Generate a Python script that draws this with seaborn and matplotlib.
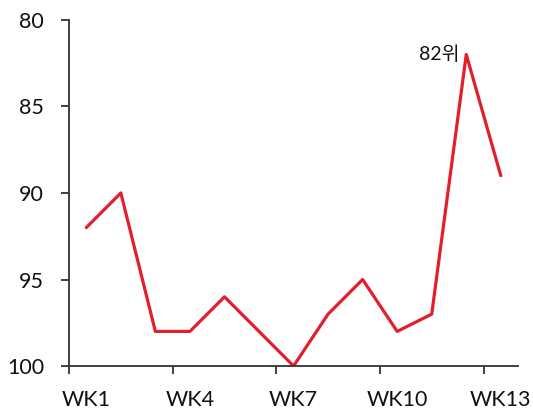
import matplotlib
matplotlib.use("Agg")
import matplotlib.pyplot as plt
import seaborn as sns
import pandas as pd
import numpy as np

# Weekly ranking data
weeks = ["WK1", "WK2", "WK3", "WK4", "WK5", "WK6", "WK7",
         "WK8", "WK9", "WK10", "WK11", "WK12", "WK13"]
ranks = [92, 90, 98, 98, 96, 98, 100, 97, 95, 98, 97, 82, 89]
shown_labels = ["WK1", "WK4", "WK7", "WK10", "WK13"]
y_ticks = [80, 85, 90, 95, 100]
peak_label = "82위"

sns.set_theme(style="white")
plt.rcParams["font.family"] = ["Lato", "Noto Sans CJK KR", "DejaVu Sans"]

df = pd.DataFrame({"pos": np.arange(1, len(weeks) + 1), "week": weeks, "rank": ranks})

fig = plt.figure(figsize=(5.33, 4.15), dpi=100)
ax = fig.add_axes([0.1295, 0.118, 0.8425, 0.834])

sns.lineplot(data=df, x="pos", y="rank", ax=ax, color="#E31E2D", linewidth=2.3)

ax.set_xlim(0.5, len(weeks) + 0.5)
ax.set_ylim(100, 80)

# Labels sit at week centres; tick marks sit at the left band edges
label_pos = [weeks.index(w) + 1 for w in shown_labels]
ax.set_xticks(label_pos)
ax.set_xticklabels(shown_labels)
ax.set_xticks([p - 0.5 for p in label_pos], minor=True)
ax.tick_params(axis="x", which="major", bottom=True, length=0, pad=17,
               labelsize=15.5, labelcolor="#111111")
ax.tick_params(axis="x", which="minor", bottom=True, length=6, width=1.3,
               color="#333333", direction="out")

ax.set_yticks(y_ticks)
ax.tick_params(axis="y", left=True, length=6, width=1.3, color="#333333", pad=12,
               labelsize=15.5, labelcolor="#111111", direction="out")

ax.set_xlabel("")
ax.set_ylabel("")
for side in ["top", "right"]:
    ax.spines[side].set_visible(False)
for side in ["left", "bottom"]:
    ax.spines[side].set_color("#333333")
    ax.spines[side].set_linewidth(1.3)

# Peak annotation
peak_idx = int(np.argmin(ranks))
ax.annotate(peak_label, xy=(peak_idx + 1, ranks[peak_idx]), xytext=(-5, 0),
            textcoords="offset points", ha="right", va="center",
            fontsize=14, color="#111111",
            family=["Lato", "Noto Sans CJK KR", "DejaVu Sans"])

fig.savefig("out.png", dpi=100)
